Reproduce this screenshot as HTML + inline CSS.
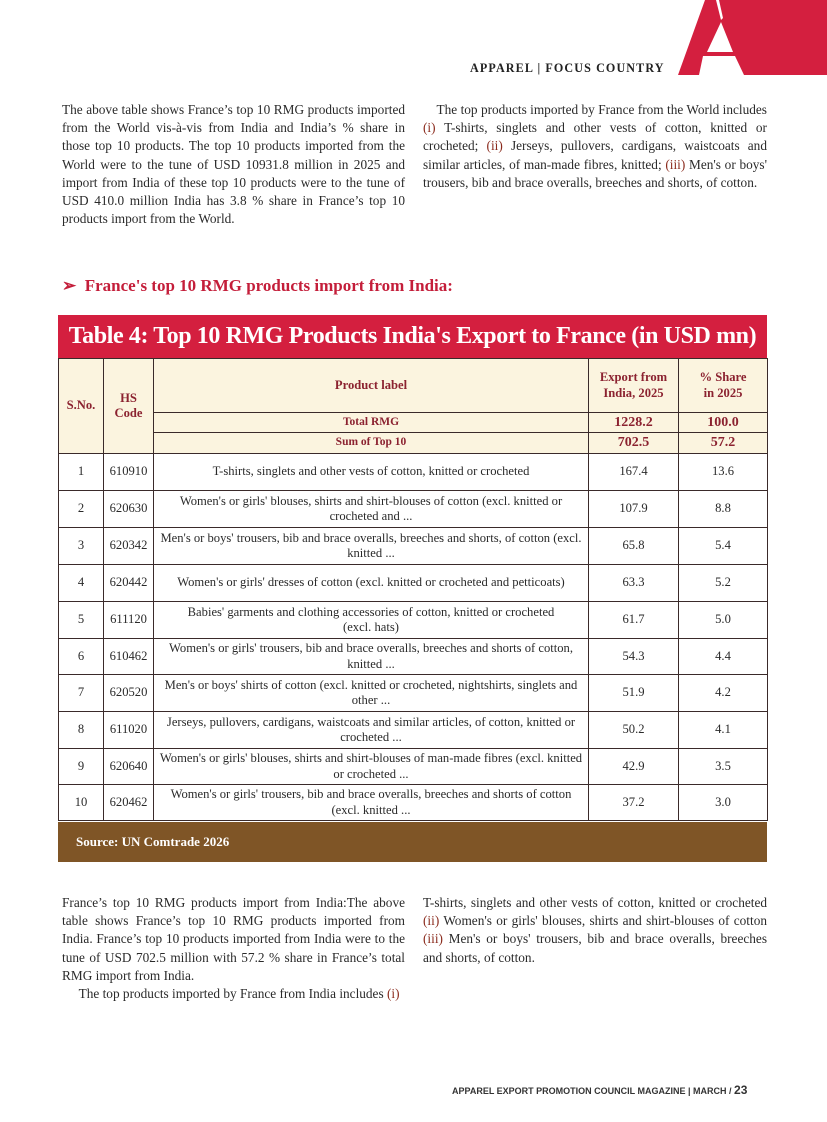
<!DOCTYPE html>
<html><head><meta charset="utf-8">
<style>
*{margin:0;padding:0;box-sizing:border-box}
body{width:827px;height:1122px;background:#fff;position:relative;overflow:hidden;font-family:"Liberation Serif",serif;color:#2a2a2a}
.p{position:absolute;font-size:13.3px;line-height:18.2px;text-align:justify}
.r{color:#8a2a1c}
.hdr{position:absolute;left:470px;top:60px;font-size:13px;letter-spacing:1.2px;color:#222;font-weight:bold;transform:scaleX(0.93);transform-origin:left}
table{position:absolute;left:58px;top:358px;width:709px;border-collapse:collapse;font-size:12.6px;table-layout:fixed}
td{border:1px solid #3a2a2a;text-align:center;vertical-align:middle;line-height:15.5px;color:#2a2a2a}
.h td{background:#fbf4df;color:#8b2230;font-weight:bold}
</style></head><body>
<svg style="position:absolute;left:0;top:0" width="827" height="80">
<polygon points="678,75 705,0 827,0 827,75" fill="#d41f3f"/>
<polygon points="716,0 719,0 723,18 721,20" fill="#fff"/>
<polygon points="721,22 707,52 733,52" fill="#fff"/>
<polygon points="703,56 735,56 744,75 699,75" fill="#fff"/>
</svg>
<div class="hdr">APPAREL | FOCUS COUNTRY</div>
<div class="p" style="left:62px;top:101px;width:343px">The above table shows France’s top 10 RMG products imported from the World vis-à-vis from India and India’s % share in those top 10 products. The top 10 products imported from the World were to the tune of USD 10931.8 million in 2025 and import from India of these top 10 products were to the tune of USD 410.0 million India has 3.8 % share in France’s top 10 products import from the World.</div>
<div class="p" style="left:423px;top:101px;width:344px">&nbsp;&nbsp;&nbsp;&nbsp;The top products imported by France from the World includes <span class="r">(i)</span> T-shirts, singlets and other vests of cotton, knitted or crocheted; <span class="r">(ii)</span> Jerseys, pullovers, cardigans, waistcoats and similar articles, of man-made fibres, knitted; <span class="r">(iii)</span> Men's or boys' trousers, bib and brace overalls, breeches and shorts, of cotton.</div>
<div style="position:absolute;left:62px;top:276px;font-size:17px;font-weight:bold;color:#c41e3a">➢&nbsp; France's top 10 RMG products import from India:</div>
<div style="position:absolute;left:58px;top:315px;width:709px;height:43px;background:#d41f3f;color:#fff;font-size:24px;font-weight:bold;text-align:center;line-height:43px;white-space:nowrap;letter-spacing:-0.4px">Table 4: Top 10 RMG Products India's Export to France (in USD mn)</div>
<table>
<colgroup><col style="width:45px"><col style="width:50px"><col style="width:435px"><col style="width:90px"><col style="width:89px"></colgroup>
<tr class="h" style="height:54px"><td rowspan="3">S.No.</td><td rowspan="3">HS<br>Code</td><td>Product label</td><td>Export from<br>India, 2025</td><td>% Share<br>in 2025</td></tr>
<tr class="h" style="height:20px"><td style="font-size:11.5px">Total RMG</td><td style="font-size:14px">1228.2</td><td style="font-size:14px">100.0</td></tr>
<tr class="h" style="height:21px"><td style="font-size:11.5px">Sum of Top 10</td><td style="font-size:14px">702.5</td><td style="font-size:14px">57.2</td></tr>
<tr style="height:37px"><td>1</td><td>610910</td><td>T-shirts, singlets and other vests of cotton, knitted or crocheted</td><td>167.4</td><td>13.6</td></tr>
<tr style="height:37px"><td>2</td><td>620630</td><td>Women's or girls' blouses, shirts and shirt-blouses of cotton (excl. knitted or<br>crocheted and ...</td><td>107.9</td><td>8.8</td></tr>
<tr style="height:37px"><td>3</td><td>620342</td><td>Men's or boys' trousers, bib and brace overalls, breeches and shorts, of cotton (excl.<br>knitted ...</td><td>65.8</td><td>5.4</td></tr>
<tr style="height:37px"><td>4</td><td>620442</td><td>Women's or girls' dresses of cotton (excl. knitted or crocheted and petticoats)</td><td>63.3</td><td>5.2</td></tr>
<tr style="height:37px"><td>5</td><td>611120</td><td>Babies' garments and clothing accessories of cotton, knitted or crocheted<br>(excl. hats)</td><td>61.7</td><td>5.0</td></tr>
<tr style="height:36px"><td>6</td><td>610462</td><td>Women's or girls' trousers, bib and brace overalls, breeches and shorts of cotton,<br>knitted ...</td><td>54.3</td><td>4.4</td></tr>
<tr style="height:37px"><td>7</td><td>620520</td><td>Men's or boys' shirts of cotton (excl. knitted or crocheted, nightshirts, singlets and<br>other ...</td><td>51.9</td><td>4.2</td></tr>
<tr style="height:37px"><td>8</td><td>611020</td><td>Jerseys, pullovers, cardigans, waistcoats and similar articles, of cotton, knitted or<br>crocheted ...</td><td>50.2</td><td>4.1</td></tr>
<tr style="height:36px"><td>9</td><td>620640</td><td>Women's or girls' blouses, shirts and shirt-blouses of man-made fibres (excl. knitted<br>or crocheted ...</td><td>42.9</td><td>3.5</td></tr>
<tr style="height:36px"><td>10</td><td>620462</td><td>Women's or girls' trousers, bib and brace overalls, breeches and shorts of cotton<br>(excl. knitted ...</td><td>37.2</td><td>3.0</td></tr>
</table>
<div style="position:absolute;left:58px;top:822px;width:709px;height:40px;background:#7f5526;color:#fff;font-size:13px;font-weight:bold;line-height:40px;padding-left:18px">Source: UN Comtrade 2026</div>
<div class="p" style="left:62px;top:894px;width:343px">France’s top 10 RMG products import from India:The above table shows France’s top 10 RMG products imported from India. France’s top 10 products imported from India were to the tune of USD 702.5 million with 57.2 % share in France’s total RMG import from India.<br>&nbsp;&nbsp;&nbsp;&nbsp;&nbsp;The top products imported by France from India includes <span class="r">(i)</span></div>
<div class="p" style="left:423px;top:894px;width:344px">T-shirts, singlets and other vests of cotton, knitted or crocheted <span class="r">(ii)</span> Women's or girls' blouses, shirts and shirt-blouses of cotton <span class="r">(iii)</span> Men's or boys' trousers, bib and brace overalls, breeches and shorts, of cotton.</div>
<div style="position:absolute;left:452px;top:1083px;font-family:'Liberation Sans',sans-serif;font-size:9px;font-weight:bold;color:#333">APPAREL EXPORT PROMOTION COUNCIL MAGAZINE | MARCH / <span style="font-size:12px">23</span></div>
</body></html>
